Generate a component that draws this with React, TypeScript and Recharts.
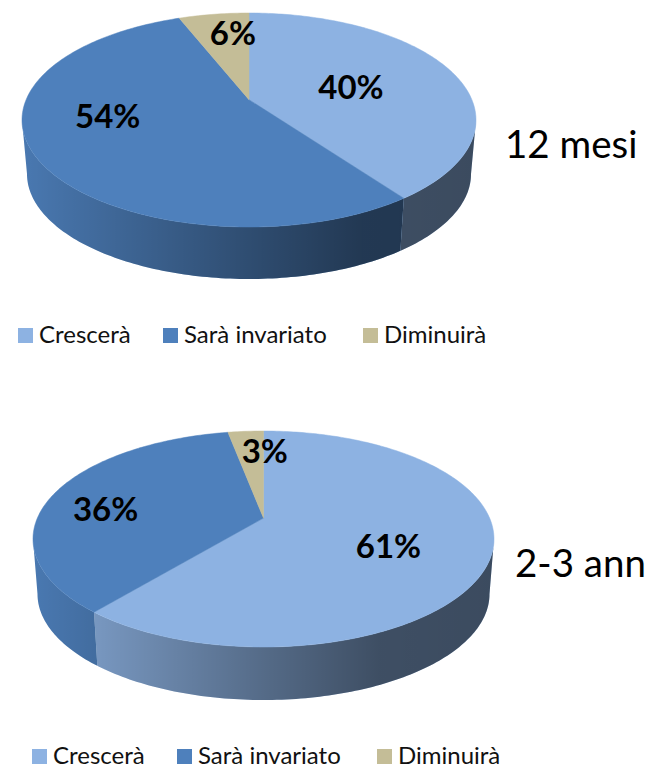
import { Legend, Pie, PieChart } from "recharts";

const categories = ["Crescerà", "Sarà invariato", "Diminuirà"];
const sliceColors = ["#8DB2E2", "#4E80BC", "#C4BD97"];
const values12Months = [40, 54, 6];
const values2To3Years = [61, 36, 3];

const CHART_WIDTH = 645;
const FONT = "Lato, 'Open Sans', sans-serif";

interface Geometry {
  id: string;
  cx: number;
  cy: number;
  rx: number;
  ry: number;
  // front rim of the disc, seen lower down and slightly narrower
  bottomCy: number;
  bottomRx: number;
  bottomRy: number;
  // how far the pie's apex sits above the ellipse centre (perspective)
  tilt: number;
  // label nudges from the slice's mid point
  labelNudge: [number, number][];
}

const geometry12: Geometry = {
  id: "a",
  cx: 249,
  cy: 120,
  rx: 227,
  ry: 107,
  bottomCy: 174,
  bottomRx: 222,
  bottomRy: 105,
  tilt: -0.19,
  labelNudge: [
    [-1, 2],
    [-39, -11],
    [3, -21],
  ],
};

const geometry23: Geometry = {
  id: "b",
  cx: 263.5,
  cy: 157,
  rx: 230.5,
  ry: 108,
  bottomCy: 212,
  bottomRx: 226,
  bottomRy: 106,
  tilt: -0.194,
  labelNudge: [
    [15, 9],
    [-51, 3],
    [11, -21],
  ],
};

// unit disc -> unit ellipse coordinates, a disc homography so the apex moves but the rim stays elliptical
const project = (clockDeg: number, radius: number, tilt: number) => {
  const rad = (clockDeg * Math.PI) / 180;
  const u = Math.sin(rad) * radius;
  const v = -Math.cos(rad) * radius;
  const denom = 1 + tilt * v;
  return {
    x: (u * Math.sqrt(1 - tilt * tilt)) / denom,
    y: (v + tilt) / denom,
  };
};

const sampleAngles = (from: number, to: number) => {
  const out: number[] = [];
  for (let a = from; a < to; a += 1) out.push(a);
  out.push(to);
  return out;
};

const makeTopShape = (g: Geometry) => (props: any) => {
  const from = 90 - props.startAngle;
  const to = 90 - props.endAngle;
  const apex = project(0, 0, g.tilt);
  const pts = [
    `${g.cx + apex.x * g.rx},${g.cy + apex.y * g.ry}`,
    ...sampleAngles(from, to).map((a) => {
      const p = project(a, 1, g.tilt);
      return `${g.cx + p.x * g.rx},${g.cy + p.y * g.ry}`;
    }),
  ];
  return <polygon points={pts.join(" ")} fill={props.fill} stroke={props.fill} strokeWidth={0.5} />;
};

const makeSideShape = (g: Geometry) => (props: any) => {
  // only the front half of the rim is visible
  const frontStart = (Math.acos(g.tilt) * 180) / Math.PI;
  const frontEnd = 360 - frontStart;
  const from = Math.max(90 - props.startAngle, frontStart);
  const to = Math.min(90 - props.endAngle, frontEnd);
  if (to <= from) return <g />;
  const angles = sampleAngles(from, to);
  const top = angles.map((a) => {
    const p = project(a, 1, g.tilt);
    return `${g.cx + p.x * g.rx},${g.cy + p.y * g.ry}`;
  });
  const bottom = angles
    .map((a) => {
      const p = project(a, 1, g.tilt);
      return `${g.cx + p.x * g.bottomRx},${g.bottomCy + p.y * g.bottomRy}`;
    })
    .reverse();
  const points = [...top, ...bottom].join(" ");
  return (
    <g>
      <polygon points={points} fill={props.fill} />
      <polygon points={points} fill={`url(#wall-${g.id})`} />
    </g>
  );
};

const makeLabel = (g: Geometry) => (props: any) => {
  const mid = 90 - props.midAngle;
  const p = project(mid, 0.5, g.tilt);
  const [dx, dy] = g.labelNudge[props.index];
  return (
    <text
      x={g.cx + p.x * g.rx + dx}
      y={g.cy + p.y * g.ry + dy}
      textAnchor="middle"
      dominantBaseline="central"
      fontFamily={FONT}
      fontWeight={700}
      fontSize={33}
      fill="#000"
    >
      {`${props.value}%`}
    </text>
  );
};

const legendGaps = [0, 145, 345];

const makeLegend = (left: number) => (props: any) => {
  const items = (props.payload ?? []).filter((d: any) => d.type !== "none");
  return (
    <div style={{ position: "relative", height: 16, fontFamily: FONT, fontSize: 24 }}>
      {items.map((d: any, i: number) => (
        <span
          key={d.value}
          style={{ position: "absolute", left: left + legendGaps[i], top: 0, whiteSpace: "nowrap", lineHeight: "15px" }}
        >
          <span
            style={{ display: "inline-block", width: 15, height: 15, background: d.color, marginRight: 6, verticalAlign: "top" }}
          />
          <span style={{ color: "#111", position: "relative", top: -2 }}>{d.value}</span>
        </span>
      ))}
    </div>
  );
};

interface PieBlockProps {
  values: number[];
  geometry: Geometry;
  height: number;
  legendLeft: number;
  legendTop: number;
  caption: string;
  captionX: number;
  captionY: number;
}

const PieBlock = ({ values, geometry, height, legendLeft, legendTop, caption, captionX, captionY }: PieBlockProps) => {
  const data = categories.map((name, i) => ({ name, value: values[i], fill: sliceColors[i] }));
  const g = geometry;
  return (
    <PieChart width={CHART_WIDTH} height={height} margin={{ top: 0, right: 0, bottom: 0, left: 0 }}>
      <defs>
        <linearGradient
          id={`wall-${g.id}`}
          gradientUnits="userSpaceOnUse"
          x1={g.cx - g.rx}
          x2={g.cx + g.rx}
          y1={0}
          y2={0}
        >
          <stop offset="0%" stopColor="#000" stopOpacity={0.06} />
          <stop offset="50%" stopColor="#000" stopOpacity={0.4} />
          <stop offset="75%" stopColor="#000" stopOpacity={0.56} />
          <stop offset="100%" stopColor="#000" stopOpacity={0.58} />
        </linearGradient>
      </defs>
      <Pie
        data={data}
        dataKey="value"
        nameKey="name"
        cx={g.cx}
        cy={g.cy}
        outerRadius={g.rx}
        startAngle={90}
        endAngle={-270}
        stroke="none"
        legendType="none"
        shape={makeSideShape(g)}
        isAnimationActive={false}
      />
      <Pie
        data={data}
        dataKey="value"
        nameKey="name"
        cx={g.cx}
        cy={g.cy}
        outerRadius={g.rx}
        startAngle={90}
        endAngle={-270}
        stroke="none"
        legendType="square"
        shape={makeTopShape(g)}
        label={makeLabel(g)}
        labelLine={false}
        isAnimationActive={false}
      />
      <Legend
        content={makeLegend(legendLeft)}
        layout="horizontal"
        verticalAlign="top"
        itemSorter={null}
        wrapperStyle={{ left: 0, top: legendTop, width: CHART_WIDTH }}
      />
      <text x={captionX} y={captionY} fontFamily={FONT} fontSize={38.5} fill="#000">
        {caption}
      </text>
    </PieChart>
  );
};

export default function App() {
  return (
    <div style={{ position: "absolute", left: 0, top: 0, width: 645, height: 765, overflow: "hidden", background: "#fff" }}>
      <PieBlock
        values={values12Months}
        geometry={geometry12}
        height={382}
        legendLeft={18}
        legendTop={328}
        caption="12 mesi"
        captionX={505}
        captionY={158}
      />
      <PieBlock
        values={values2To3Years}
        geometry={geometry23}
        height={383}
        legendLeft={32}
        legendTop={367}
        caption="2-3 ann"
        captionX={515}
        captionY={195}
      />
    </div>
  );
}
